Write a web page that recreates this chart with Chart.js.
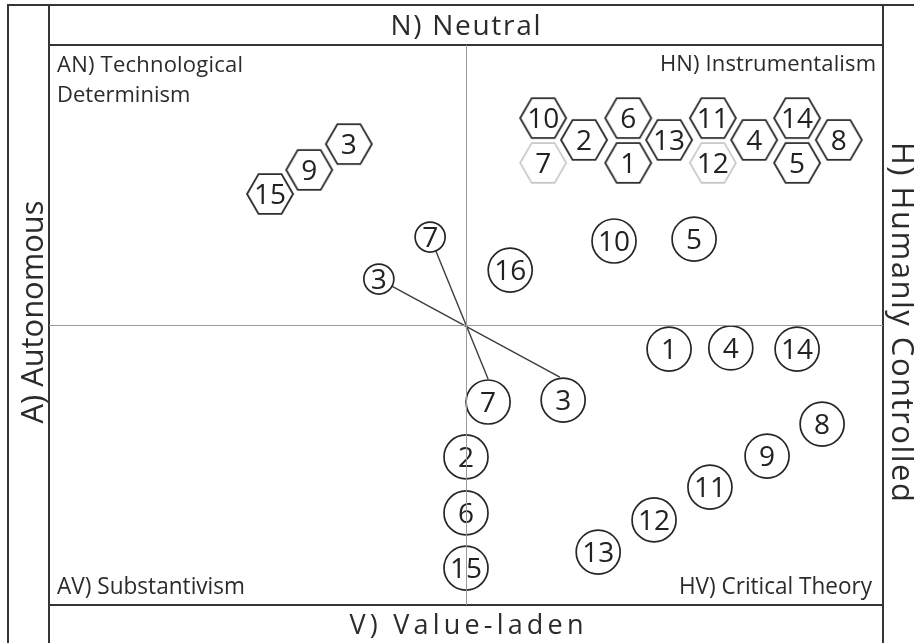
<!DOCTYPE html>
<html><head><meta charset="utf-8">
<script src="https://cdn.jsdelivr.net/npm/chart.js@4.4.1/dist/chart.umd.min.js"></script>
<style>html,body{margin:0;padding:0;background:#fff;overflow:hidden}#wrap{width:914px;height:643px}</style>
</head><body><div id="wrap"><canvas id="c" width="914" height="643"></canvas></div>
<script>
// ---- data (axis: -10 .. 10, x = Autonomous -> Humanly controlled, y = Value-laden -> Neutral)
const hexDarkLabels = ['10','2','6','1','13','11','4','14','5','8','3','9','15'];
const hexDarkX = [1.85,2.83,3.89,3.89,4.87,5.92,6.91,7.94,7.94,8.94,-2.81,-3.76,-4.70];
const hexDarkY = [7.39,6.61,7.39,5.79,6.61,7.39,6.61,7.39,5.79,6.61,6.46,5.54,4.68];
const hexLightLabels = ['7','12'];
const hexLightX = [1.85,5.92];
const hexLightY = [5.79,5.79];
const circleLabels = ['16','10','5','1','4','14','8','9','11','12','13','7','3','2','6','15'];
const circleX = [1.06,3.55,5.47,4.87,6.35,7.94,8.54,7.22,5.85,4.51,3.17,0.53,2.33,0,0,0];
const circleY = [1.96,3.00,3.07,-0.86,-0.82,-0.86,-3.54,-4.68,-5.79,-6.96,-8.11,-2.75,-2.68,-4.71,-6.71,-8.68];
const smallCircleLabels = ['7','3'];
const smallCircleX = [-0.86,-2.09];
const smallCircleY = [3.14,1.64];
const shift7X = [-0.86,0.53], shift7Y = [3.14,-1.93];
const shift3X = [-2.09,2.25], shift3Y = [1.64,-1.86];
const bandTop = 'N) Neutral', bandBottom = 'V) Value-laden', bandLeft = 'A) Autonomous', bandRight = 'H) Humanly Controlled';
const quadAN = ['AN) Technological','Determinism'], quadHN = 'HN) Instrumentalism', quadAV = 'AV) Substantivism', quadHV = 'HV) Critical Theory';

const pts = (xs, ys) => xs.map((x,i)=>({x, y: ys[i]}));

function hexImage(r, color, lw){
  const s = Math.ceil(2*r + lw*2 + 2);
  const c = document.createElement('canvas'); c.width = s; c.height = s;
  const g = c.getContext('2d');
  g.beginPath();
  for(let k=0;k<6;k++){ const a = k*Math.PI/3; const px = s/2 + r*Math.cos(a), py = s/2 + r*Math.sin(a); k?g.lineTo(px,py):g.moveTo(px,py); }
  g.closePath(); g.fillStyle='#fff'; g.fill(); g.lineWidth=lw; g.strokeStyle=color; g.lineJoin='miter'; g.stroke();
  return c;
}
const hexDark = hexImage(23,'#2e2e2e',1.9);
const hexLight = hexImage(23,'#c6c6c6',1.6);

const FONT = '"Open Sans", "Noto Sans", sans-serif';
function txt(ctx, s, x, y, o){
  ctx.save();
  ctx.font = o.size+'px '+FONT;
  ctx.fillStyle = o.color || '#2b2b2b';
  ctx.textBaseline = 'alphabetic'; ctx.textAlign = 'left';
  ctx.translate(x,y); if(o.rot) ctx.rotate(o.rot);
  let w = ctx.measureText(s).width, sx = 1;
  if(o.width){
    if(o.width > w && s.length>1){ const ls = (o.width - w)/(s.length-1); ctx.letterSpacing = ls+'px'; w = o.width; }
    else { sx = o.width / w; w = o.width; }
  }
  let off = o.align==='center' ? -w/2 : (o.align==='right' ? -w : 0);
  ctx.translate(off,0); ctx.scale(sx,1);
  ctx.fillText(s,0,0);
  ctx.restore();
}

const framePlugin = {
  id:'frame',
  beforeDatasetsDraw(chart){
    const ctx = chart.ctx, a = chart.chartArea;
    ctx.save();
    ctx.strokeStyle = '#353535'; ctx.lineWidth = 2; ctx.lineCap='square';
    ctx.beginPath();
    ctx.moveTo(8,5); ctx.lineTo(914,5);
    ctx.moveTo(8,5); ctx.lineTo(8,643);
    ctx.moveTo(a.left,5); ctx.lineTo(a.left,643);
    ctx.moveTo(a.right,5); ctx.lineTo(a.right,643);
    ctx.moveTo(a.left,a.top); ctx.lineTo(a.right,a.top);
    ctx.moveTo(a.left,a.bottom); ctx.lineTo(a.right,a.bottom);
    ctx.stroke();
    ctx.restore();
  },
  afterDatasetsDraw(chart){
    const ctx = chart.ctx, a = chart.chartArea, xs = chart.scales.x, ys = chart.scales.y;
    // number labels on markers
    chart.data.datasets.forEach((ds,i)=>{
      if(!ds.labels) return;
      const meta = chart.getDatasetMeta(i);
      meta.data.forEach((el,j)=>{
        txt(ctx, ds.labels[j], el.x, el.y + 10, {size:28, align:'center', color:'#222'});
      });
    });
    // centre cross lines
    const cx = Math.round(xs.getPixelForValue(0))+0.5, cy = Math.round(ys.getPixelForValue(0))+0.5;
    ctx.save(); ctx.strokeStyle='#9a9a9a'; ctx.lineWidth=1;
    ctx.beginPath(); ctx.moveTo(cx,a.top); ctx.lineTo(cx,a.bottom); ctx.moveTo(a.left,cy); ctx.lineTo(a.right,cy); ctx.stroke();
    ctx.restore();
    // band titles
    txt(ctx, bandTop, cx-1, a.top-10, {size:28, align:'center', width:150});
    txt(ctx, bandBottom, cx, a.bottom+29, {size:27, align:'center', width:234});
    txt(ctx, bandLeft, a.left-6, 312, {size:31, align:'center', width:223, rot:-Math.PI/2});
    txt(ctx, bandRight, a.right+9, 322, {size:31, align:'center', width:360, rot:Math.PI/2});
    // quadrant titles
    txt(ctx, quadAN[0], a.left+8, 72, {size:22, width:186});
    txt(ctx, quadAN[1], a.left+8, 102, {size:22});
    txt(ctx, quadHN, a.right-7, 71, {size:22, align:'right', width:216});
    txt(ctx, quadAV, a.left+8, a.bottom-11, {size:24, width:188});
    txt(ctx, quadHV, a.right-11, a.bottom-11, {size:24, align:'right', width:193});
  }
};

const lineStyle = {type:'line', borderColor:'#3c3c3c', borderWidth:1.4, pointRadius:0, fill:false, order:5};
new Chart(document.getElementById('c'), {
  type:'scatter',
  data:{datasets:[
    Object.assign({data: pts(shift7X, shift7Y)}, lineStyle),
    Object.assign({data: pts(shift3X, shift3Y)}, lineStyle),
    {data: pts(circleX, circleY), labels: circleLabels, pointStyle:'circle', pointRadius:22, backgroundColor:'#fff', borderColor:'#262626', borderWidth:1.7, order:1},
    {data: pts(smallCircleX, smallCircleY), labels: smallCircleLabels, pointStyle:'circle', pointRadius:15, backgroundColor:'#fff', borderColor:'#262626', borderWidth:1.7, order:1},
    {data: pts(hexDarkX, hexDarkY), labels: hexDarkLabels, pointStyle: hexDark, pointRadius:23, order:1},
    {data: pts(hexLightX, hexLightY), labels: hexLightLabels, pointStyle: hexLight, pointRadius:23, order:1}
  ]},
  options:{
    responsive:false, animation:false, devicePixelRatio:1,
    layout:{padding:{left:49, top:45, right:31, bottom:38}},
    scales:{
      x:{type:'linear', min:-10, max:10, display:false},
      y:{type:'linear', min:-10, max:10, display:false}
    },
    plugins:{legend:{display:false}, tooltip:{enabled:false}},
    events:[]
  },
  plugins:[framePlugin]
});
</script></body></html>
